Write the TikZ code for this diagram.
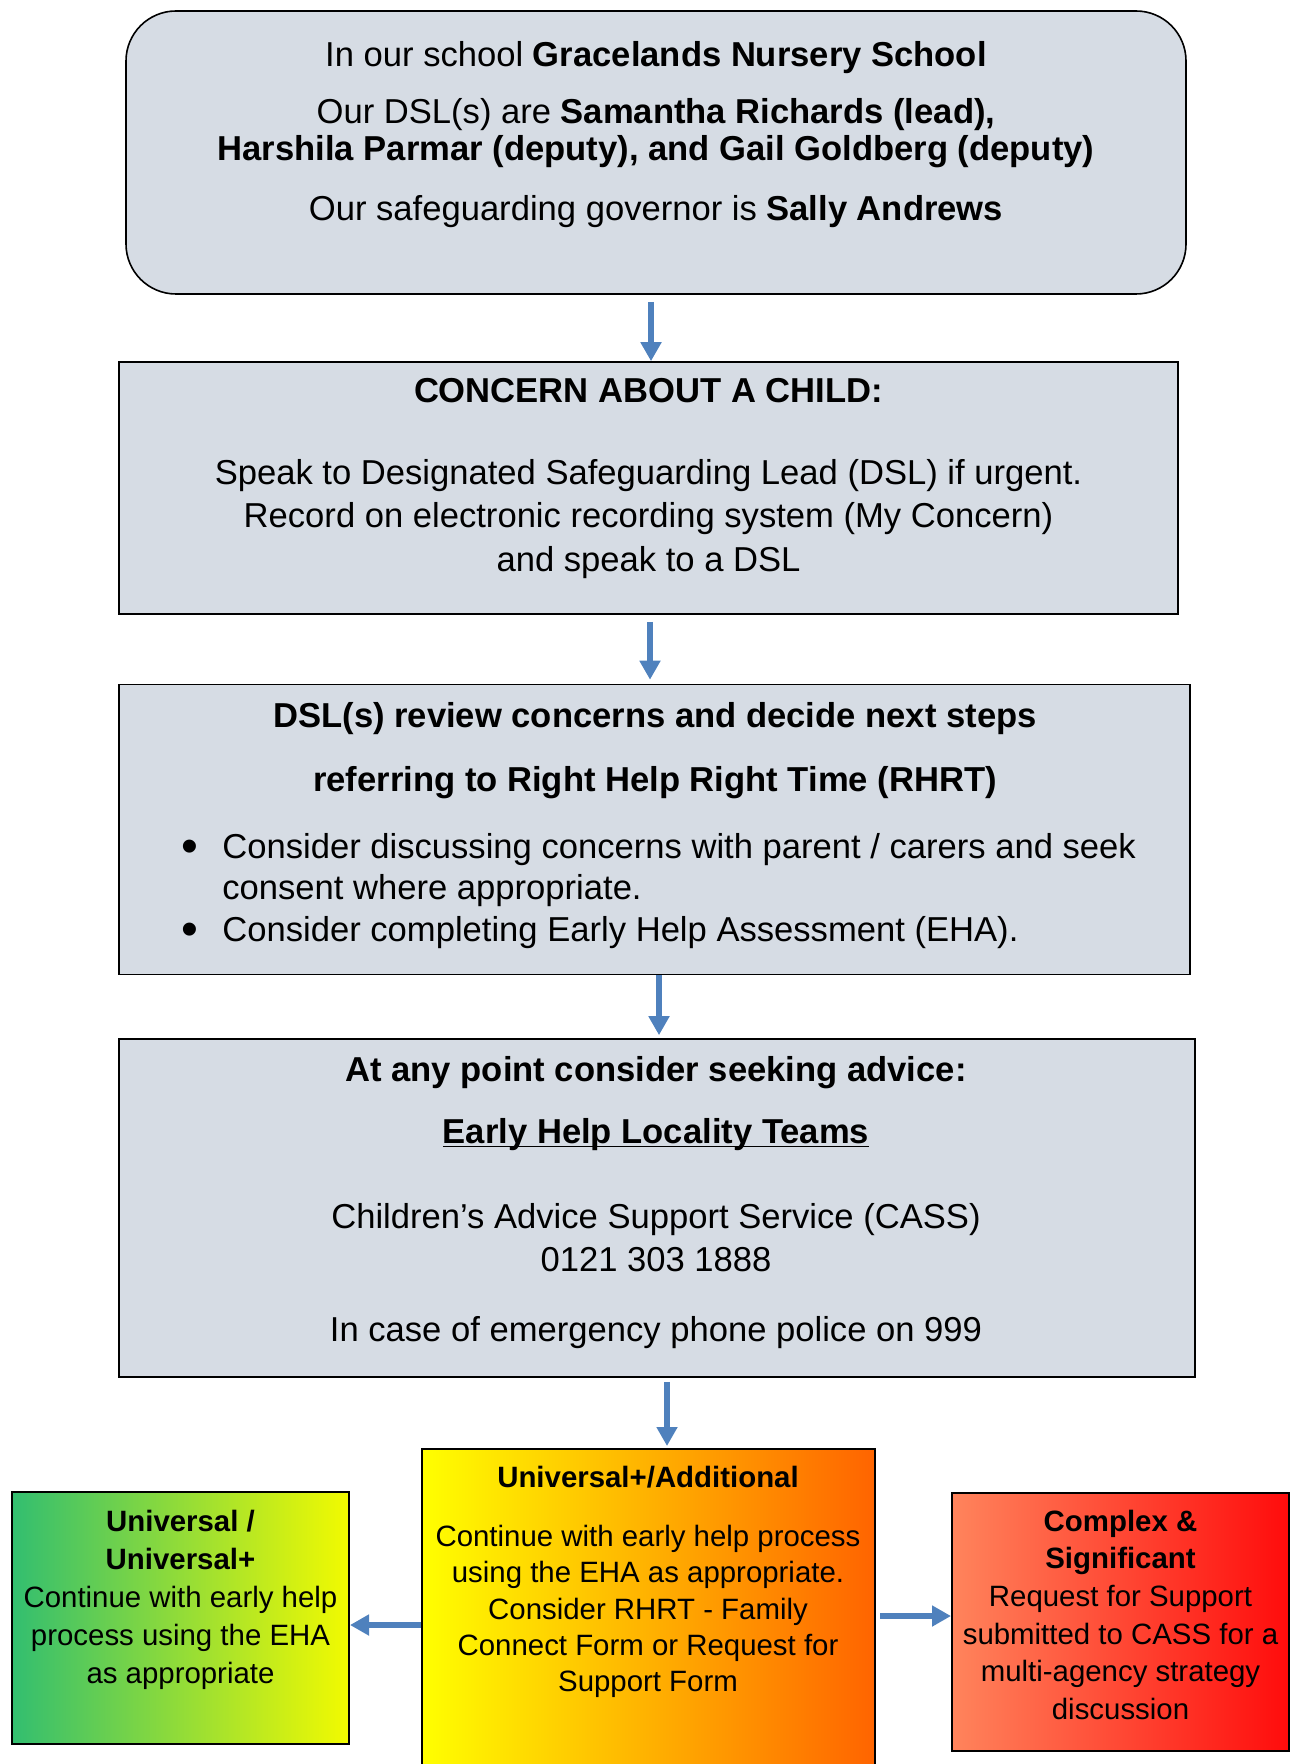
\documentclass[tikz,border=0pt]{standalone}
\usepackage{fontspec}
\setmainfont{Liberation Sans}
\usepackage{xcolor}
\usepackage{tikz}
\usetikzlibrary{arrows.meta}

\definecolor{boxgrey}{RGB}{214,220,228}
\definecolor{flowblue}{RGB}{79,129,189}
\definecolor{greenleft}{RGB}{50,190,112}
\definecolor{yellowright}{RGB}{242,250,0}
\definecolor{orangeright}{RGB}{255,100,0}
\definecolor{salmonleft}{RGB}{255,132,92}
\definecolor{redright}{RGB}{255,12,12}

\newcommand{\listdot}{\makebox[20.5pt][l]{\raisebox{-2pt}{\fontsize{24}{20}\selectfont •}}}
\newcommand{\ulined}[1]{\underline{\smash{#1}}}

\tikzset{
  box/.style={draw, line width=0.8pt, fill=boxgrey, inner sep=0pt},
  levelbox/.style={draw, line width=1pt, inner sep=0pt},
  flow/.style={draw=flowblue, line width=3.2pt, -{Triangle[width=10pt,length=9.5pt]}},
  txt/.style={anchor=north, inner sep=0pt, align=center},
}

\begin{document}
\begin{tikzpicture}[x=0.5pt, y=-0.5pt]
      \useasboundingbox (0,0) rectangle (1295,1764);
      \clip (0,0) rectangle (1295,1764);

      % boxes
      \node[box, rounded corners=25pt, minimum width=530pt, minimum height=141.5pt] (school) at (656,152.5) {};
      \node[box, minimum width=529.5pt, minimum height=126pt] (concern) at (648.5,488) {};
      \node[box, minimum width=535.5pt, minimum height=145pt] (review) at (654.5,829.5) {};
      \node[box, minimum width=538pt, minimum height=169pt] (advice) at (657,1208) {};

      \node[levelbox, left color=yellow, right color=orangeright, minimum width=226.25pt, minimum height=163pt] (additional) at (648.25,1612) {};
      \node[levelbox, left color=greenleft, right color=yellowright, minimum width=168.5pt, minimum height=126pt] (universal) at (180.5,1618) {};
      \node[levelbox, left color=salmonleft, right color=redright, minimum width=168.5pt, minimum height=129pt] (complex) at (1120.5,1622) {};

      % texts
      \node[txt, font=\fontsize{17.3}{18.5}\selectfont] (schooltext) at (656,41)
        {In our school \textbf{Gracelands Nursery School}\\[10pt]
         Our DSL(s) are \textbf{Samantha Richards (lead),}\\
         \textbf{Harshila Parmar (deputy), and Gail Goldberg (deputy)}\\[11.5pt]
         Our safeguarding governor is \textbf{Sally Andrews}};

      \node[txt, font=\fontsize{17.3}{21.7}\selectfont] (concerntext) at (648.5,378)
        {\textbf{CONCERN ABOUT A CHILD:}\\[19.3pt]
         Speak to Designated Safeguarding Lead (DSL) if urgent.\\
         Record on electronic recording system (My Concern)\\
         and speak to a DSL};

      \node[txt, font=\fontsize{17.3}{32}\selectfont] (reviewtext) at (655,702)
        {\textbf{DSL(s) review concerns and decide next steps}\\
         \textbf{referring to Right Help Right Time (RHRT)}};
      \node[anchor=north west, inner sep=0pt, align=left, font=\fontsize{17.3}{20.5}\selectfont] (reviewlist) at (181,833)
        {\listdot Consider discussing concerns with parent / carers and seek\\
         \makebox[20.5pt][l]{}consent where appropriate.\\[0.5pt]
         \listdot Consider completing Early Help Assessment (EHA).};

      \node[txt, font=\fontsize{17.3}{21.5}\selectfont] (advicetext) at (656,1056)
        {\textbf{At any point consider seeking advice:}\\[9.5pt]
         \textbf{\ulined{Early Help Locality Teams}}\\[21pt]
         Children’s Advice Support Service (CASS)\\
         0121 303 1888\\[13.5pt]
         In case of emergency phone police on 999};

      \node[txt, font=\fontsize{14.7}{18.2}\selectfont] (additionaltext) at (648,1465.5)
        {\textbf{Universal+/Additional}\\[11.3pt]
         Continue with early help process\\
         using the EHA as appropriate.\\
         Consider RHRT - Family\\
         Connect Form or Request for\\
         Support Form};

      \node[txt, font=\fontsize{14.7}{19}\selectfont] (universaltext) at (180.5,1509.5)
        {\textbf{Universal /}\\
         \textbf{Universal+}\\
         Continue with early help\\
         process using the EHA\\
         as appropriate};

      \node[txt, font=\fontsize{14.7}{18.8}\selectfont] (complextext) at (1120.5,1509.5)
        {\textbf{Complex \&}\\
         \textbf{Significant}\\
         Request for Support\\
         submitted to CASS for a\\
         multi-agency strategy\\
         discussion};

      % arrows
      \draw[flow] ([xshift=-2.5pt,yshift=-3.5pt]school.south) -- ([xshift=-2.5pt]school.south |- concern.north);
      \draw[flow] ([xshift=0.75pt,yshift=-3.5pt]concern.south) -- ([xshift=0.75pt,yshift=2pt]concern.south |- review.north);
      \draw[flow] ([xshift=2.25pt]review.south) -- ([xshift=2.25pt,yshift=1.5pt]review.south |- advice.north);
      \draw[flow] ([xshift=5pt,yshift=-2pt]advice.south) -- ([xshift=5pt,yshift=1pt]advice.south |- additional.north);
      \draw[flow] ([yshift=-6.5pt]additional.west) -- ([yshift=-6.5pt]additional.west -| universal.east);
      \draw[flow] ([xshift=2.25pt,yshift=-2pt]additional.east) -- ([yshift=-2pt]additional.east -| complex.west);
\end{tikzpicture}
\end{document}
